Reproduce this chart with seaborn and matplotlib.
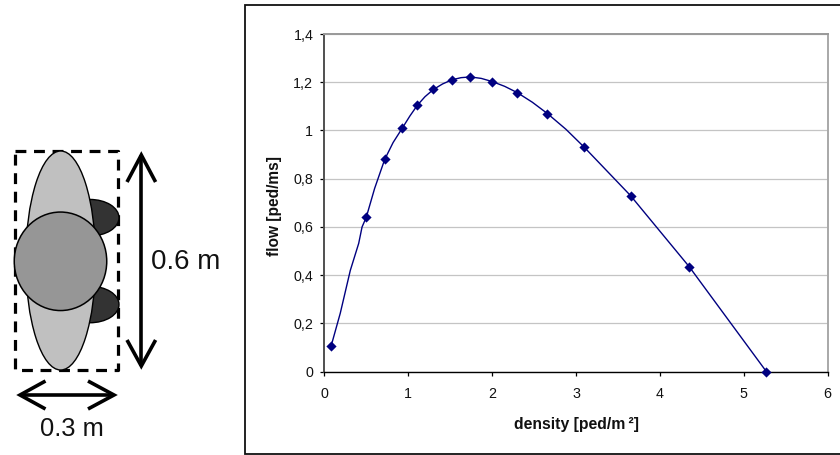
import matplotlib
matplotlib.use('Agg')
import matplotlib.pyplot as plt
from matplotlib.patches import Ellipse
import seaborn as sns

# diamonds
density = [0.08, 0.50, 0.72, 0.93, 1.11, 1.30, 1.52, 1.74, 2.00, 2.30, 2.66, 3.10, 3.65, 4.35, 5.27]
flow = [0.105, 0.64, 0.88, 1.01, 1.105, 1.17, 1.21, 1.222, 1.203, 1.157, 1.07, 0.93, 0.73, 0.435, 0.0]

# smoothed line
curve_density = [0.08, 0.19, 0.31, 0.41, 0.45, 0.50, 0.60, 0.72, 0.82, 0.93, 1.02, 1.11, 1.20, 1.30,
                 1.41, 1.52, 1.63, 1.74, 1.87, 2.00, 2.15, 2.30, 2.48, 2.66, 2.88, 3.10, 3.65, 4.35, 5.27]
curve_flow = [0.105, 0.242, 0.42, 0.532, 0.60, 0.64, 0.76, 0.88, 0.95, 1.01, 1.06, 1.105, 1.14, 1.17,
              1.193, 1.21, 1.219, 1.222, 1.216, 1.203, 1.183, 1.157, 1.117, 1.07, 1.005, 0.93, 0.73, 0.435, 0.0]

x_ticks = [0, 1, 2, 3, 4, 5, 6]
y_ticks = [0, 0.2, 0.4, 0.6, 0.8, 1, 1.2, 1.4]
y_labels = ['0', '0,2', '0,4', '0,6', '0,8', '1', '1,2', '1,4']

navy = '#000080'
W, H = 840, 455

sns.set_style('white')
plt.rcParams['font.family'] = ['Liberation Sans', 'DejaVu Sans']

fig = plt.figure(figsize=(W / 100, H / 100), dpi=100)

# overlay in pixel coordinates for the frame and the pedestrian sketch
bg = fig.add_axes([0, 0, 1, 1], zorder=0)
bg.set_xlim(0, W)
bg.set_ylim(H, 0)
bg.axis('off')

# chart frame runs off the right edge of the image
bg.plot([W, 245.3, 245.3, W], [5.3, 5.3, 453.7, 453.7], color='#111111', lw=1.3, solid_joinstyle='miter')

# sketch
bg.plot([14.7, 118.2, 118.2, 14.7, 14.7], [151, 151, 370, 370, 151], color='black', lw=2.3,
        ls=(0, (3.4, 2.4)), zorder=1)
for cy in [217.7, 304.5]:
    bg.add_patch(Ellipse((90, cy), 58, 36.5, fc='#333333', ec='black', lw=1.0, zorder=2))
bg.add_patch(Ellipse((60.7, 260.5), 70, 219, fc='#c0c0c0', ec='black', lw=1.0, zorder=3))
bg.add_patch(Ellipse((60.5, 261.3), 92.5, 98.5, fc='#969696', ec='black', lw=1.1, zorder=4))

arrow = dict(color='black', lw=2.6, solid_capstyle='butt', solid_joinstyle='miter', zorder=5)
bg.plot([141.3, 141.3], [155, 366], **arrow)
bg.plot([127, 141.3, 155.6], [182, 155, 182], **arrow)
bg.plot([127, 141.3, 155.6], [340, 366, 340], **arrow)
bg.plot([20, 114], [395, 395], **arrow)
bg.plot([45.5, 20, 45.5], [381, 395, 409], **arrow)
bg.plot([88, 114, 88], [381, 395, 409], **arrow)
bg.text(185.5, 262, '0.6 m', fontsize=20, ha='center', va='center', color='#111111')
bg.text(72, 429, '0.3 m', fontsize=18.4, ha='center', va='center', color='#111111')

# flow/density chart
ax = fig.add_axes([324.3 / W, 1 - 371.7 / H, 503.4 / W, 337.7 / H], zorder=1)
ax.patch.set_alpha(0)
sns.lineplot(x=curve_density, y=curve_flow, color=navy, lw=1.0, sort=False, estimator=None, ax=ax)
sns.scatterplot(x=density, y=flow, color=navy, marker='D', s=27, linewidth=0, clip_on=False, zorder=5, ax=ax)

ax.set_xlim(0, 6)
ax.set_ylim(0, 1.4)
ax.set_xticks(x_ticks)
ax.set_yticks(y_ticks)
ax.set_yticklabels(y_labels)
ax.tick_params(axis='both', direction='out', length=3.2, width=0.9, color='black',
               labelsize=10.3, labelcolor='#111111', bottom=True, left=True)
ax.tick_params(axis='x', pad=8)
ax.tick_params(axis='y', pad=4.7)
ax.grid(axis='y', color='#c4c4c4', lw=0.9)
ax.set_axisbelow(True)

ax.spines['left'].set_color('#505050')
ax.spines['left'].set_linewidth(1.4)
ax.spines['bottom'].set_color('black')
ax.spines['bottom'].set_linewidth(1.0)
ax.spines['top'].set_color('#999999')
ax.spines['top'].set_linewidth(1.4)
ax.spines['right'].set_color('#a8a8a8')
ax.spines['right'].set_linewidth(1.4)

ax.set_xlabel('density [ped/m\u2009²]', fontsize=11.3, fontweight='bold', color='#111111', labelpad=11)
ax.set_ylabel('flow [ped/ms]', fontsize=11.2, fontweight='bold', color='#111111')
ax.yaxis.set_label_coords(-0.084, 0.491)

fig.savefig('out.png', dpi=100)
